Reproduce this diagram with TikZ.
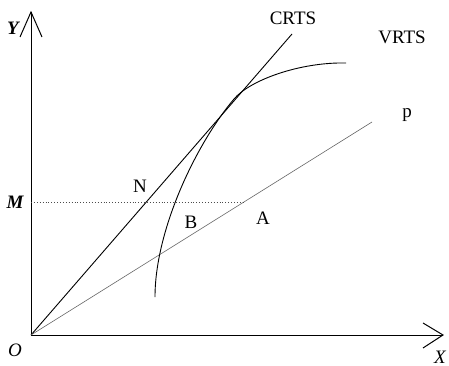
\documentclass[tikz,border=0pt]{standalone}
\usepackage{fontspec}
\setmainfont{Liberation Serif}
\begin{document}
\begin{tikzpicture}[x=1pt,y=-1pt,
  axis/.style={line width=1pt,black},
  curve/.style={line width=0.9pt,black},
  lbl/.style={inner sep=0pt,font=\fontsize{19}{22}\selectfont},
  ilbl/.style={inner sep=0pt,font=\fontsize{19}{22}\selectfont\itshape},
  iblbl/.style={inner sep=0pt,font=\fontsize{19}{22}\selectfont\itshape\bfseries}]
\useasboundingbox (0,0) rectangle (449,366);
% coordinates
\coordinate (O) at (31,335);
\coordinate (Ytop) at (31,12);
\coordinate (Xend) at (443,335);
\coordinate (Cend) at (292,34);
\coordinate (Pend) at (372,122);
\coordinate (Mpt) at (31,202);
\coordinate (Apt) at (244,202);
\coordinate (S) at (155,297);
\coordinate (T) at (234,99);
\coordinate (E) at (346,63);
% axes
\draw[axis] (O) -- (Ytop);
\draw[axis] (O) -- (Xend);
\draw[axis] (20,37) -- (Ytop) -- (42,37);
\draw[axis] (423,323) -- (Xend) -- (423,348);
% lines
\draw[curve] (O) -- (Cend);
\draw[line width=0.6pt,black!60] (O) -- (Pend);
\draw[line width=0.9pt,black!70,dotted] (Mpt) -- (Apt);
% VRTS curve
\draw[curve] (S) .. controls (155,230) and (196,144) .. (T)
  .. controls (250,80) and (300,62) .. (E);
% labels
\node[iblbl] (Ylab) at (13,28) {Y};
\node[iblbl] (Mlab) at (15,202) {M};
\node[ilbl] (Olab) at (15,350) {O};
\node[ilbl] (Xlab) at (440,357) {X};
\node[lbl] (CRTS) at (293,18) {CRTS};
\node[lbl] (VRTS) at (402,37) {VRTS};
\node[lbl] (plab) at (407,115) {p};
\node[lbl] (Nlab) at (140,186) {N};
\node[lbl] (Blab) at (191,222) {B};
\node[lbl] (Alab) at (263,218) {A};
\end{tikzpicture}
\end{document}
